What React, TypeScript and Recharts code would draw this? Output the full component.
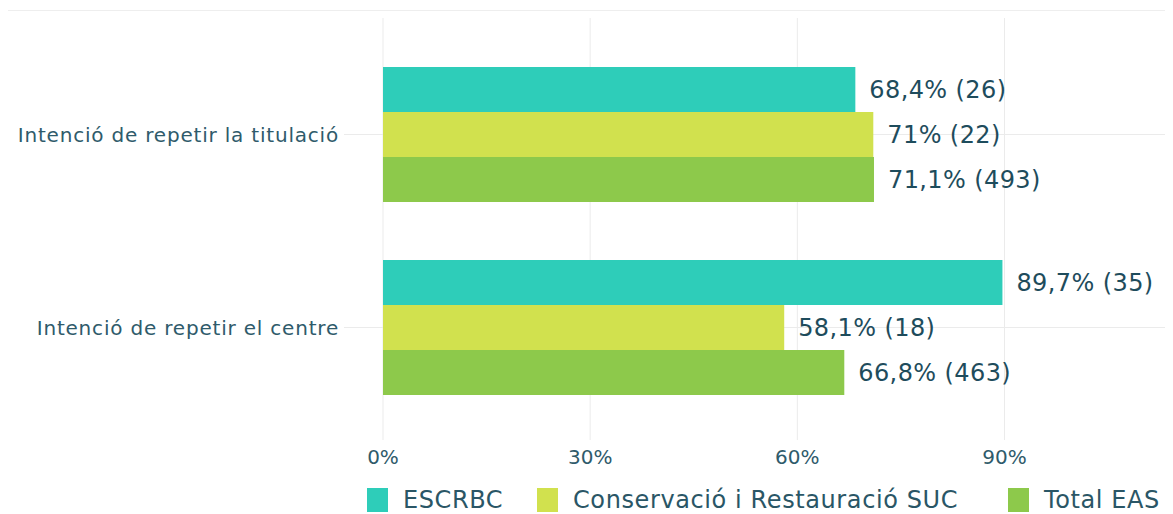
import React from 'react';
import { BarChart, Bar, XAxis, YAxis, CartesianGrid, Legend, LabelList } from 'recharts';

const categories = ['Intenció de repetir la titulació', 'Intenció de repetir el centre'];
const escrbcPct = [68.4, 89.7];
const escrbcN = [26, 35];
const conservacioPct = [71, 58.1];
const conservacioN = [22, 18];
const totalPct = [71.1, 66.8];
const totalN = [493, 463];
const xTicks = [0, 30, 60, 90];
const seriesNames = ['ESCRBC', 'Conservació i Restauració SUC', 'Total EAS'];

const fmtLabel = (v: number, n: number) => `${String(v).replace('.', ',')}% (${n})`;

const data = categories.map((name, i) => ({
  name,
  escrbc: escrbcPct[i],
  escrbcLabel: fmtLabel(escrbcPct[i], escrbcN[i]),
  conservacio: conservacioPct[i],
  conservacioLabel: fmtLabel(conservacioPct[i], conservacioN[i]),
  total: totalPct[i],
  totalLabel: fmtLabel(totalPct[i], totalN[i]),
}));

const TEAL = '#2ECDB9';
const YELLOW = '#D1E14E';
const GREEN = '#8DC94B';
const LABEL_COLOR = '#1E4C5C';
const AXIS_COLOR = '#2F5B6B';
const GRID = '#ebebeb';

// legend item left edges (svg coords), same order as seriesNames
const legendLeft = [359, 529, 1000];

const renderLegend = (props: any) => {
  const payload = [...(props.payload || [])].sort(
    (a: any, b: any) => seriesNames.indexOf(a.value) - seriesNames.indexOf(b.value)
  );
  return (
    <div style={{ position: 'relative', height: 24 }}>
      {payload.map((p: any) => (
        <div
          key={p.value}
          style={{
            position: 'absolute',
            left: legendLeft[seriesNames.indexOf(p.value)],
            top: 0,
            height: 24,
            display: 'flex',
            alignItems: 'center',
            whiteSpace: 'nowrap',
          }}
        >
          <span style={{ display: 'inline-block', width: 21, height: 24, background: p.color, marginRight: 15 }} />
          <span style={{ fontSize: 24, color: '#2A5666', letterSpacing: 0.6 }}>{p.value}</span>
        </div>
      ))}
    </div>
  );
};

const labelStyle = { fill: LABEL_COLOR, fontSize: 24, letterSpacing: 0.4 };

const App: React.FC = () => {
  return (
    <div style={{ position: 'relative', width: 1165, height: 506, fontFamily: '"DejaVu Sans", sans-serif' }}>
      <div style={{ position: 'absolute', left: 0, top: 2, width: 1165, height: 1, background: '#eeeeee' }} />
      <BarChart
        width={1165}
        height={506}
        data={data}
        layout="vertical"
        barGap={0}
        margin={{ top: 10, right: 0, bottom: 44, left: 0 }}
      >
        <CartesianGrid stroke={GRID} syncWithTicks />
        <XAxis
          type="number"
          domain={[0, 114.4]}
          ticks={xTicks}
          tickFormatter={(v) => `${v}%`}
          axisLine={false}
          tickLine={false}
          tickSize={0}
          tickMargin={10}
          height={30}
          tick={{ fill: AXIS_COLOR, fontSize: 20 }}
        />
        <YAxis
          type="category"
          dataKey="name"
          width={375}
          axisLine={false}
          tickLine={{ stroke: GRID }}
          tickSize={39}
          tickMargin={5}
          padding={{ top: 20, bottom: 16 }}
          tick={{ fill: AXIS_COLOR, fontSize: 20, letterSpacing: 0.8 }}
        />
        <Legend
          layout="horizontal"
          verticalAlign="middle"
          align="center"
          content={renderLegend}
          wrapperStyle={{ top: 480, left: 0, width: 1165 }}
        />
        <Bar dataKey="escrbc" name={seriesNames[0]} fill={TEAL} barSize={45} isAnimationActive={false}>
          <LabelList dataKey="escrbcLabel" position="right" offset={14} {...labelStyle} />
        </Bar>
        <Bar dataKey="conservacio" name={seriesNames[1]} fill={YELLOW} barSize={45} isAnimationActive={false}>
          <LabelList dataKey="conservacioLabel" position="right" offset={14} {...labelStyle} />
        </Bar>
        <Bar dataKey="total" name={seriesNames[2]} fill={GREEN} barSize={45} isAnimationActive={false}>
          <LabelList dataKey="totalLabel" position="right" offset={14} {...labelStyle} />
        </Bar>
      </BarChart>
    </div>
  );
};

export default App;
